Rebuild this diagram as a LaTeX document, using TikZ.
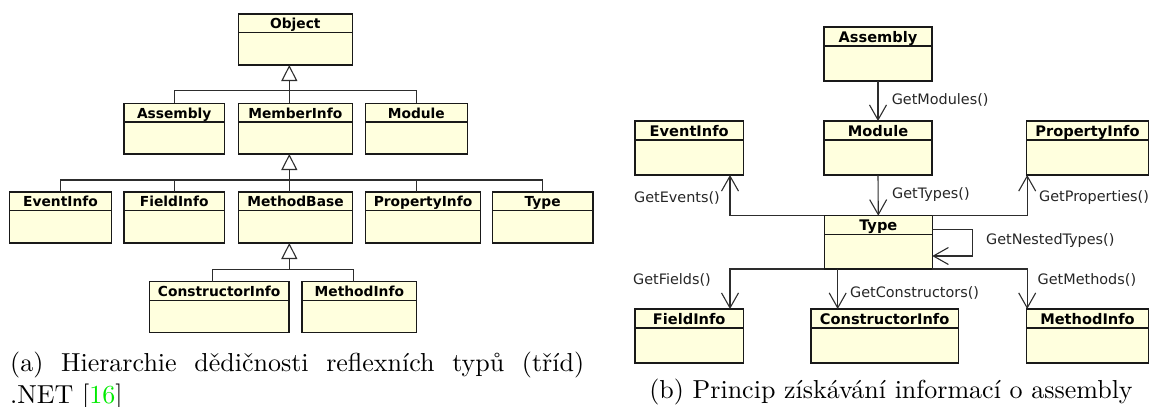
\documentclass[tikz,border=0pt]{standalone}
\usepackage{fontspec}
\usetikzlibrary{arrows.meta,calc}
\newfontfamily\dejavu{DejaVu Sans}
\newfontfamily\capfont{lmroman10-regular.otf}
\definecolor{boxfill}{RGB}{255,255,222}
\definecolor{boxc}{RGB}{25,25,25}
\definecolor{connc}{RGB}{45,45,45}
\definecolor{citec}{RGB}{0,235,0}
\tikzset{
  clsbox/.style={draw=boxc, fill=boxfill, line width=1.4pt, inner sep=0pt, outer sep=0pt},
  hdrline/.style={draw=boxc, line width=1.1pt},
  ttlL/.style={font={\dejavu\bfseries\fontsize{13.8}{16}\selectfont}, inner sep=0pt, anchor=base},
  ttlR/.style={font={\dejavu\bfseries\fontsize{14.6}{17}\selectfont}, inner sep=0pt, anchor=base},
  lbl/.style={font={\dejavu\fontsize{14.4}{17}\selectfont}, inner sep=0pt, text=black!85},
  conn/.style={draw=connc, line width=1.1pt},
  gen/.style={conn, -{Triangle[open, length=16pt, width=16pt, fill=white, line width=1.1pt]}},
  arr/.style={conn, -{Straight Barb[length=15pt, width=17pt, line width=1.1pt]}},
  capt/.style={font={\capfont\fontsize{26}{32}\selectfont}, inner sep=0pt},
}
% #1 name, #2 x1, #3 y1, #4 x2, #5 y2, #6 header height, #7 title style, #8 title
\newcommand\umlcls[8]{%
  \node[clsbox, minimum width={(#4-(#2))*1pt}, minimum height={(#5-(#3))*1pt}, anchor=north west] (#1) at (#2,#3) {};
  \draw[hdrline] ($(#1.north west)+(0,#6)$) -- ($(#1.north east)+(0,#6)$);
  \node[#7] (#1-t) at ($(#1.north)+(0,#6-4)$) {#8};
}
\begin{document}
\begin{tikzpicture}[x=1pt, y=-1pt]
\useasboundingbox (0,0) rectangle (1152,407);

% ---------- (a) hierarchy ----------
\umlcls{lObject}{238.3}{14}{352.3}{65}{18.7}{ttlL}{Object}
\umlcls{lAssembly}{124}{103.3}{224.5}{154}{18.7}{ttlL}{Assembly}
\umlcls{lMemberInfo}{238.3}{103.3}{352.3}{154}{18.7}{ttlL}{MemberInfo}
\umlcls{lModule}{365.3}{103.3}{467.3}{154}{18.7}{ttlL}{Module}
\umlcls{lEventInfo}{9.5}{192}{111.5}{243}{18.7}{ttlL}{EventInfo}
\umlcls{lFieldInfo}{124}{192}{224.5}{243}{18.7}{ttlL}{FieldInfo}
\umlcls{lMethodBase}{238.3}{192}{352.7}{243}{18.7}{ttlL}{MethodBase}
\umlcls{lPropertyInfo}{365.3}{192}{480.7}{243}{18.7}{ttlL}{PropertyInfo}
\umlcls{lType}{492.3}{192}{593}{243}{18.7}{ttlL}{Type}
\umlcls{lConstructorInfo}{149.3}{281.7}{289}{332.3}{18.7}{ttlL}{ConstructorInfo}
\umlcls{lMethodInfo}{302}{281.7}{416.7}{332.3}{18.7}{ttlL}{MethodInfo}

\coordinate (j1) at (289.3,90.5);
\coordinate (j2) at (289.3,180);
\coordinate (j3) at (289.3,269.3);
\coordinate (c1) at (212.7,269.3);
\coordinate (c2) at (353.3,269.3);

\draw[conn] (lAssembly.north) |- (lModule.north |- j1) -- (lModule.north);
\draw[conn] (j1 |- lMemberInfo.north) -- (j1);
\draw[gen] (j1) -- (j1 |- lObject.south);

\draw[conn] (lEventInfo.north) |- (lType.north |- j2) -- (lType.north);
\draw[conn] (lFieldInfo.north) -- (lFieldInfo.north |- j2);
\draw[conn] (j2 |- lMethodBase.north) -- (j2);
\draw[conn] (lPropertyInfo.north -| lModule.south) -- (lModule.south |- j2);
\draw[gen] (j2) -- (j2 |- lMemberInfo.south);

\draw[conn] (c1 |- lConstructorInfo.north) -- (c1) -- (c2) -- (c2 |- lMethodInfo.north);
\draw[gen] (j3) -- (j3 |- lMethodBase.south);

\node[capt, anchor=base west] (capa1) at (10,371) {\hbox to 574pt{(a)\hfill Hierarchie\hfill dědičnosti\hfill reflexních\hfill typů\hfill (tříd)}};
\node[capt, anchor=base west] (capa2) at (10,403) {.NET [\textcolor{citec}{16}]};

% ---------- (b) reflection ----------
\umlcls{rAssembly}{824}{27}{932}{81}{19}{ttlR}{Assembly}
\umlcls{rModule}{824}{121}{932}{175}{19}{ttlR}{Module}
\umlcls{rEventInfo}{635}{121}{743.4}{175}{19}{ttlR}{EventInfo}
\umlcls{rPropertyInfo}{1026.7}{121}{1148.3}{175}{19}{ttlR}{PropertyInfo}
\umlcls{rType}{824.3}{215.7}{932.3}{269}{19}{ttlR}{Type}
\umlcls{rFieldInfo}{635}{309}{743.4}{363}{19}{ttlR}{FieldInfo}
\umlcls{rConstructorInfo}{810.8}{309}{958.4}{363}{19}{ttlR}{ConstructorInfo}
\umlcls{rMethodInfo}{1026.7}{309}{1148.3}{363}{19}{ttlR}{MethodInfo}

\coordinate (ev) at (730,0);
\coordinate (co) at (837.7,0);

\draw[arr] (rAssembly.south) -- (rModule.north);
\draw[arr] (rModule.south) -- (rType.north);
\draw[arr] (rType.north west) -| (ev |- rEventInfo.south);
\draw[arr] (rType.north east) -| ($(rPropertyInfo.south west)+(0.5,0)$);
\draw[arr] ($(rType.north east)+(0,13.6)$) -- ++(40.4,0) |- ($(rType.north east)+(0,40.3)$);
\draw[arr] (rType.south west) -| (ev |- rFieldInfo.north);
\draw[arr] (co |- rType.south) -- (co |- rConstructorInfo.north);
\draw[arr] (rType.south east) -| ($(rMethodInfo.north west)+(0.5,0)$);

\node[lbl, anchor=west] (lGM) at (891.6,100) {GetModules()};
\node[lbl, anchor=west] (lGT) at (892,195) {GetTypes()};
\node[lbl, anchor=east] (lGE) at (720,198) {GetEvents()};
\node[lbl, anchor=west] (lGP) at (1039,198) {GetProperties()};
\node[lbl, anchor=west] (lGN) at (986,241) {GetNestedTypes()};
\node[lbl, anchor=west] (lGF) at (633,280) {GetFields()};
\node[lbl, anchor=west] (lGC) at (850,293) {GetConstructors()};
\node[lbl, anchor=west] (lGMe) at (1037.5,280) {GetMethods()};

\node[capt, anchor=base] (capb) at (891,398) {(b) Princip získávání informací o assembly};
\end{tikzpicture}
\end{document}
